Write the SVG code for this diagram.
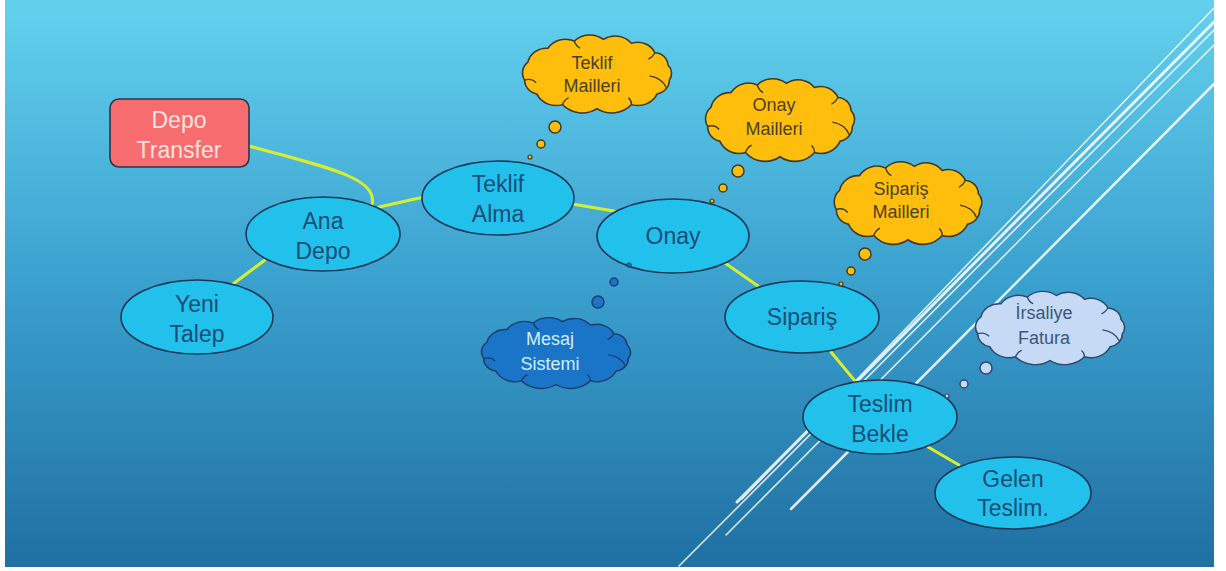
<svg xmlns="http://www.w3.org/2000/svg" xmlns:xlink="http://www.w3.org/1999/xlink" width="1226" height="571" viewBox="0 0 1226 571">
<defs>
<linearGradient id="bg" x1="0" y1="0" x2="0" y2="1">
<stop offset="0" stop-color="#63D1EE"/>
<stop offset="0.5" stop-color="#3AA0CE"/>
<stop offset="1" stop-color="#2070A2"/>
</linearGradient>
<path id="cloud" d="M-68.9,6.1 A14,14 0 0 1 -65.8,-12 A18,18 0 0 1 -46.8,-26 A20,20 0 0 1 -21.6,-33.3 A21,21 0 0 1 6.1,-34.9 A20,20 0 0 1 32.9,-30.9 A18,18 0 0 1 55.2,-21.5 A13,13 0 0 1 67.6,-9.1 A12,12 0 0 1 68.9,6.1 A14,14 0 0 1 57.3,20.1 A20,20 0 0 1 32.9,30.9 A25,25 0 0 1 0,35 A25,25 0 0 1 -32.9,30.9 A20,20 0 0 1 -57.3,20.1 A14,14 0 0 1 -68.9,6.1 Z"/>
<path id="curls" d="M-68.9,6.1 Q-62,4 -58,9 M50,2 Q62,4 66,14 M-32.9,30.9 Q-31,26 -27,24 M-21.6,-33.3 Q-20,-28 -16,-26 M55.2,-21.5 Q53,-17 49,-15 M32.9,30.9 Q33,27 30,24"/>
</defs>
<style>
.node ellipse{fill:#21C1EC;stroke:#1B3858;stroke-width:1.6}
.nt{font-family:"Liberation Sans",Arial,sans-serif;font-size:23px;fill:#1D4C77;text-anchor:middle}
.ct{font-family:"Liberation Sans",Arial,sans-serif;font-size:18px;text-anchor:middle}
.cl{vector-effect:non-scaling-stroke;stroke-width:1.5}
.curl{fill:none;vector-effect:non-scaling-stroke;stroke-width:1.3}
.orange{fill:#FFBE0C;stroke:#3F3A26}
.orange-t{fill:#4A4126}
.conn path,.conn line{stroke:#D6EE2E;stroke-width:3;fill:none;stroke-linecap:round}
.deco line{stroke:#FFFFFF;stroke-linecap:round}
</style>
<rect x="0" y="0" width="1226" height="571" fill="#FFFFFF"/>
<rect x="5" y="0" width="1209" height="567" fill="url(#bg)"/>
<g class="deco" opacity="0.85">
<line x1="679" y1="566" x2="1214" y2="30" stroke-width="1.5"/>
<line x1="737" y1="502" x2="1214" y2="22" stroke-width="3"/>
<line x1="742" y1="499" x2="1214" y2="8" stroke-width="1.5"/>
<line x1="726" y1="535" x2="1214" y2="45" stroke-width="1.5"/>
<line x1="791" y1="509" x2="1214" y2="84" stroke-width="2.5"/>
</g>
<g class="conn" id="connectors">
<path d="M249,146 C330,168 378,178 372,205"/>
<line x1="379" y1="207" x2="424" y2="197"/>
<line x1="265" y1="260" x2="233" y2="284"/>
<line x1="572" y1="204" x2="614" y2="211"/>
<line x1="725" y1="263" x2="758" y2="286"/>
<line x1="831" y1="352" x2="855" y2="381"/>
<line x1="928" y1="447" x2="959" y2="465"/>
</g>
<g id="depo-transfer">
<rect x="110" y="99" width="139" height="68" rx="9" fill="#F76C6F" stroke="#2B3550" stroke-width="1.6"/>
<text class="nt" x="179" y="128" style="fill:#FDE3DC">Depo</text>
<text class="nt" x="179" y="158" style="fill:#FDE3DC">Transfer</text>
</g>
<g id="ana-depo" class="node">
<ellipse cx="323" cy="234" rx="77" ry="37"/>
<text class="nt" x="323" y="229">Ana</text>
<text class="nt" x="323" y="259">Depo</text>
</g>
<g id="yeni-talep" class="node">
<ellipse cx="197" cy="317" rx="76" ry="37"/>
<text class="nt" x="197" y="312">Yeni</text>
<text class="nt" x="197" y="342">Talep</text>
</g>
<g id="teklif-alma" class="node">
<ellipse cx="498" cy="198" rx="76" ry="37"/>
<text class="nt" x="498" y="192">Teklif</text>
<text class="nt" x="498" y="222">Alma</text>
</g>
<g id="onay" class="node">
<ellipse cx="673" cy="236" rx="76" ry="37"/>
<text class="nt" x="673" y="244">Onay</text>
</g>
<g id="siparis" class="node">
<ellipse cx="802" cy="317" rx="77" ry="36"/>
<text class="nt" x="802" y="325">Sipariş</text>
</g>
<g id="teslim-bekle" class="node">
<ellipse cx="880" cy="417" rx="77" ry="37"/>
<text class="nt" x="880" y="412">Teslim</text>
<text class="nt" x="880" y="442">Bekle</text>
</g>
<g id="gelen-teslim" class="node">
<ellipse cx="1013" cy="493" rx="78" ry="36"/>
<text class="nt" x="1013" y="487">Gelen</text>
<text class="nt" x="1013" y="516">Teslim.</text>
</g>
<g id="teklif-mailleri">
<use xlink:href="#cloud" class="cl orange" transform="translate(597,74) scale(1.05,0.99)"/>
<use xlink:href="#curls" class="curl" stroke="#3F3A26" transform="translate(597,74) scale(1.05,0.99)"/>
<circle cx="555" cy="127" r="6" class="orange" stroke-width="1.5"/>
<circle cx="541" cy="144" r="4" class="orange" stroke-width="1.5"/>
<circle cx="530" cy="157" r="2" class="orange" stroke-width="1.2"/>
<text class="ct orange-t" x="592" y="69">Teklif</text>
<text class="ct orange-t" x="592" y="92">Mailleri</text>
</g>
<g id="onay-mailleri">
<use xlink:href="#cloud" class="cl orange" transform="translate(780,120) scale(1.05,1.05)"/>
<use xlink:href="#curls" class="curl" stroke="#3F3A26" transform="translate(780,120) scale(1.05,1.05)"/>
<circle cx="738" cy="171" r="6" class="orange" stroke-width="1.5"/>
<circle cx="723" cy="188" r="4" class="orange" stroke-width="1.5"/>
<circle cx="712" cy="201" r="2" class="orange" stroke-width="1.2"/>
<text class="ct orange-t" x="774" y="111">Onay</text>
<text class="ct orange-t" x="774" y="135">Mailleri</text>
</g>
<g id="siparis-mailleri">
<use xlink:href="#cloud" class="cl orange" transform="translate(908,203) scale(1.04,1.05)"/>
<use xlink:href="#curls" class="curl" stroke="#3F3A26" transform="translate(908,203) scale(1.04,1.05)"/>
<circle cx="865" cy="254" r="6" class="orange" stroke-width="1.5"/>
<circle cx="851" cy="271" r="4" class="orange" stroke-width="1.5"/>
<circle cx="841" cy="284" r="2" class="orange" stroke-width="1.2"/>
<text class="ct orange-t" x="901" y="195">Sipariş</text>
<text class="ct orange-t" x="901" y="218">Mailleri</text>
</g>
<g id="mesaj-sistemi">
<use xlink:href="#cloud" class="cl" fill="#1A74C8" stroke="#1E3E6A" transform="translate(556,353) scale(1.05,0.9)"/>
<use xlink:href="#curls" class="curl" stroke="#1E3E6A" transform="translate(556,353) scale(1.05,0.9)"/>
<circle cx="598" cy="302" r="6" fill="#1A74C8" stroke="#1E3E6A" stroke-width="1.5"/>
<circle cx="614" cy="282" r="4" fill="#1A74C8" stroke="#1E3E6A" stroke-width="1.5"/>
<circle cx="629" cy="265" r="2" fill="#1A74C8" stroke="#1E3E6A" stroke-width="1.2"/>
<text class="ct" x="550" y="345" fill="#CDEFFA">Mesaj</text>
<text class="ct" x="550" y="370" fill="#CDEFFA">Sistemi</text>
</g>
<g id="irsaliye-fatura">
<use xlink:href="#cloud" class="cl" fill="#C6DAF6" stroke="#2E4A70" transform="translate(1050,328) scale(1.05,0.93)"/>
<use xlink:href="#curls" class="curl" stroke="#2E4A70" transform="translate(1050,328) scale(1.05,0.93)"/>
<circle cx="986" cy="368" r="6" fill="#C6DAF6" stroke="#2E4A70" stroke-width="1.5"/>
<circle cx="964" cy="384" r="4" fill="#C6DAF6" stroke="#2E4A70" stroke-width="1.5"/>
<circle cx="947" cy="396" r="2" fill="#C6DAF6" stroke="#2E4A70" stroke-width="1.2"/>
<text class="ct" x="1044" y="319" fill="#3A587E">İrsaliye</text>
<text class="ct" x="1044" y="344" fill="#3A587E">Fatura</text>
</g>
</svg>
